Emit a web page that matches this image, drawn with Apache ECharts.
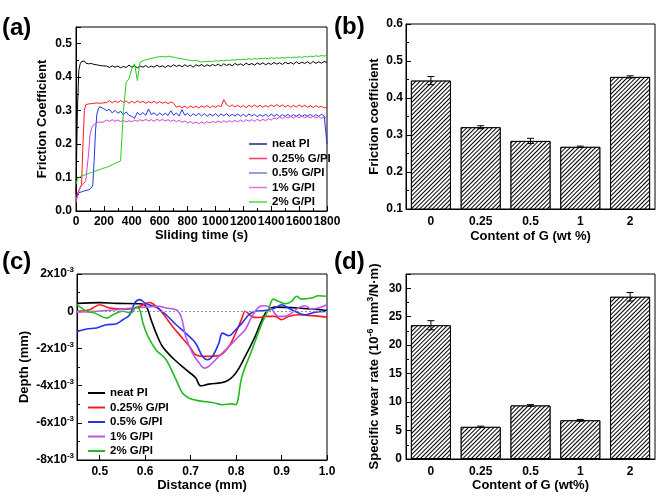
<!DOCTYPE html>
<html><head><meta charset="utf-8">
<script src="https://cdn.jsdelivr.net/npm/echarts@6/dist/echarts.min.js"></script>
<style>html,body{margin:0;padding:0;background:#fff}#c{width:661px;height:504px}</style>
</head><body><div id="c"></div>
<script>
// ---------- Panel (a): friction coefficient vs sliding time ----------
const timeA = [0,10,20,30,40,50,60,70,80,90,100,110,120,130,140,150,160,170,180,190,200,
220,240,260,280,300,320,340,360,380,400,420,440,460,480,500,520,540,560,580,600,620,640,660,680,700,720,740,760,780,800,820,840,860,880,900,920,940,960,980,1000,1020,1040,1060,1080,1100,1120,1140,1160,1180,1200,1220,1240,1260,1280,1300,1320,1340,1360,1380,1400,1420,1440,1460,1480,1500,1520,1540,1560,1580,1600,1620,1640,1660,1680,1700,1720,1740,1760,1780,1800];
const fricNeat = [0.05,0.30,0.42,0.44,0.447,0.445,0.448,0.442,0.444,0.440,0.438,0.441,0.436,0.438,0.434,0.437,0.432,0.435,0.431,0.434,0.430,
0.433,0.429,0.434,0.430,0.433,0.428,0.432,0.429,0.436,0.430,0.434,0.428,0.433,0.430,0.435,0.429,0.433,0.430,0.436,0.431,0.434,0.429,0.435,0.431,0.437,0.432,0.436,0.431,0.437,0.432,0.436,0.430,0.437,0.433,0.438,0.432,0.437,0.433,0.438,0.434,0.439,0.433,0.440,0.435,0.439,0.434,0.441,0.436,0.440,0.435,0.442,0.437,0.441,0.436,0.442,0.438,0.443,0.437,0.442,0.438,0.444,0.439,0.443,0.438,0.445,0.440,0.444,0.439,0.446,0.440,0.445,0.441,0.446,0.440,0.447,0.441,0.446,0.442,0.447,0.444];
const fric025 = [0.03,0.05,0.06,0.07,0.08,0.20,0.30,0.318,0.322,0.320,0.325,0.321,0.326,0.322,0.327,0.323,0.328,0.322,0.327,0.323,0.328,
0.324,0.330,0.323,0.329,0.324,0.330,0.325,0.329,0.322,0.328,0.323,0.329,0.324,0.328,0.322,0.327,0.323,0.328,0.322,0.327,0.322,0.326,0.321,0.326,0.322,0.310,0.314,0.309,0.313,0.308,0.314,0.309,0.313,0.308,0.314,0.310,0.315,0.309,0.314,0.310,0.315,0.312,0.333,0.318,0.312,0.317,0.311,0.316,0.310,0.315,0.309,0.316,0.311,0.317,0.311,0.316,0.310,0.315,0.311,0.317,0.312,0.318,0.312,0.317,0.311,0.316,0.310,0.316,0.311,0.317,0.311,0.316,0.310,0.315,0.309,0.315,0.310,0.313,0.308,0.310];
const fric05 = [0.050,0.053,0.055,0.056,0.057,0.058,0.060,0.061,0.062,0.063,0.065,0.066,0.075,0.15,0.24,0.29,0.305,0.312,0.316,0.308,0.312,
0.300,0.304,0.293,0.301,0.292,0.298,0.288,0.296,0.286,0.283,0.277,0.295,0.287,0.294,0.286,0.305,0.288,0.294,0.285,0.293,0.286,0.292,0.285,0.300,0.286,0.293,0.284,0.303,0.286,0.292,0.283,0.291,0.285,0.292,0.284,0.291,0.283,0.290,0.284,0.291,0.283,0.290,0.285,0.291,0.283,0.289,0.284,0.290,0.283,0.289,0.282,0.290,0.284,0.289,0.282,0.288,0.283,0.289,0.282,0.290,0.283,0.289,0.282,0.288,0.283,0.289,0.282,0.288,0.283,0.289,0.282,0.288,0.283,0.289,0.282,0.288,0.283,0.289,0.284,0.200];
const fric1 = [0.025,0.045,0.06,0.07,0.075,0.08,0.085,0.09,0.095,0.17,0.225,0.245,0.255,0.258,0.262,0.264,0.266,0.268,0.265,0.270,0.267,
0.272,0.268,0.273,0.268,0.272,0.267,0.271,0.266,0.270,0.267,0.272,0.268,0.273,0.269,0.274,0.269,0.273,0.268,0.274,0.270,0.274,0.269,0.273,0.268,0.272,0.267,0.271,0.265,0.269,0.263,0.267,0.262,0.266,0.261,0.266,0.262,0.267,0.263,0.268,0.264,0.269,0.264,0.270,0.265,0.270,0.266,0.271,0.266,0.272,0.267,0.273,0.268,0.273,0.268,0.274,0.269,0.274,0.270,0.276,0.272,0.278,0.275,0.281,0.277,0.282,0.278,0.283,0.278,0.283,0.279,0.284,0.279,0.283,0.278,0.283,0.278,0.282,0.277,0.281,0.276];
const fric2 = [0.08,0.095,0.10,0.103,0.105,0.106,0.108,0.109,0.110,0.112,0.113,0.115,0.116,0.118,0.119,0.121,0.122,0.124,0.125,0.127,0.128,
0.131,0.134,0.138,0.142,0.146,0.150,0.30,0.385,0.395,0.425,0.440,0.390,0.445,0.449,0.452,0.454,0.456,0.458,0.460,0.461,0.462,0.460,0.463,0.461,0.460,0.458,0.456,0.455,0.453,0.452,0.450,0.449,0.451,0.448,0.445,0.447,0.446,0.448,0.447,0.449,0.448,0.450,0.449,0.451,0.450,0.452,0.451,0.453,0.452,0.454,0.453,0.455,0.453,0.456,0.454,0.456,0.455,0.457,0.455,0.458,0.456,0.458,0.457,0.459,0.457,0.460,0.458,0.460,0.459,0.461,0.459,0.462,0.460,0.463,0.461,0.464,0.462,0.465,0.463,0.466];

// ---------- Panel (b) and (d): bars ----------
const contentCats = ['0','0.25','0.5','1','2'];
const fricBar = [0.447,0.321,0.284,0.268,0.457];
const fricErr = [0.011,0.004,0.007,0.002,0.003];
const wearBar = [23.5,5.65,9.4,6.8,28.5];
const wearErr = [0.8,0.12,0.15,0.15,0.75];

// ---------- Panel (c): depth profiles (depth in 10^-3 mm) ----------
const neatX = [0.45,0.50,0.537,0.588,0.602,0.613,0.624,0.638,0.66,0.689,0.711,0.722,0.74,0.777,0.799,0.82,0.842,0.857,0.868,0.886,0.937,1.0];
const neatY = [0.42,0.46,0.42,0.40,0.26,-0.46,-1.18,-1.9,-2.5,-3.13,-3.58,-4.01,-3.92,-3.78,-3.33,-2.43,-1.35,-0.46,0.0,0.22,0.17,0.04];
const g025X = [0.45,0.478,0.5,0.522,0.558,0.588,0.609,0.62,0.638,0.66,0.682,0.70,0.711,0.733,0.762,0.784,0.799,0.813,0.82,0.835,0.85,0.864,0.886,0.90,0.915,0.937,0.966,1.0];
const g025Y = [0.0,0.08,0.35,0.17,0.11,0.26,0.47,0.35,-0.1,-0.82,-1.45,-1.98,-2.34,-2.43,-2.39,-1.9,-1.18,-0.37,0.0,-0.28,-0.34,-0.28,-0.28,-0.46,-0.28,-0.19,-0.24,-0.32];
const g05X = [0.45,0.471,0.493,0.515,0.537,0.551,0.566,0.577,0.588,0.602,0.624,0.646,0.668,0.689,0.711,0.726,0.737,0.748,0.762,0.77,0.784,0.799,0.813,0.828,0.842,0.864,0.886,0.90,0.915,0.929,0.951,0.973,1.0];
const g05Y = [-1.09,-0.96,-0.9,-0.73,-0.67,-0.46,-0.19,0.44,0.62,0.4,0.22,-0.19,-0.73,-1.18,-1.72,-2.43,-2.61,-2.43,-1.72,-1.18,-1.32,-1.0,-0.64,-0.19,0.0,0.04,0.17,0.35,0.17,0.0,-0.19,-0.06,0.0];
const g1X = [0.45,0.493,0.537,0.573,0.602,0.631,0.646,0.668,0.679,0.689,0.704,0.719,0.73,0.74,0.762,0.784,0.806,0.82,0.835,0.85,0.864,0.879,0.893,0.908,0.922,0.937,0.951,0.966,0.981,1.0];
const g1Y = [-0.05,0.0,0.08,0.17,0.22,0.26,0.17,0.08,-0.28,-1.35,-2.25,-2.79,-3.06,-2.97,-2.43,-1.9,-1.35,-1.0,-0.28,0.22,0.29,0.08,-0.28,-0.28,-0.1,0.17,0.29,0.11,0.17,0.35];
const g2X = [0.45,0.471,0.489,0.515,0.529,0.551,0.569,0.58,0.588,0.595,0.606,0.624,0.646,0.668,0.682,0.697,0.719,0.748,0.77,0.791,0.799,0.813,0.835,0.857,0.871,0.882,0.893,0.908,0.922,0.933,0.944,0.966,0.981,1.0];
const g2Y = [0.35,0.0,-0.1,-0.37,-0.19,0.0,-0.1,0.22,0.08,-0.64,-1.35,-2.08,-2.61,-3.69,-4.4,-4.68,-4.82,-4.91,-5.03,-4.98,-5.03,-3.5,-2.08,-0.64,0.08,0.65,0.53,0.4,0.53,0.8,0.65,0.71,0.83,0.8];

const seriesNames = ['neat PI','0.25% G/PI','0.5% G/PI','1% G/PI','2% G/PI'];
const xTicksC = [0.5,0.6,0.7,0.8,0.9,1.0];

const FONT = 'Liberation Sans';
const colA = ['#000000','#ff1a1a','#2233dd','#cc44dd','#22cc22'];
const legA = ['#1a2590','#ff3377','#7080d0','#e070e0','#44dd44'];
const colC = ['#000000','#ff1a1a','#2233ee','#bb55ee','#22bb22'];

const zip = (xs, ys) => xs.map((x, i) => [x, ys[i]]);
const lab = {fontFamily: FONT, fontWeight: 'bold', fontSize: 12, color: '#000'};
const nameSt = {fontFamily: FONT, fontWeight: 'bold', fontSize: 13, color: '#000'};
const axLine = {show: true, onZero: false, lineStyle: {color: '#000', width: 1}};
const tick = {show: true, inside: true, length: 5, lineStyle: {color: '#000'}};
const minor = {show: true, splitNumber: 2, length: 3, lineStyle: {color: '#000'}};

const decal = {symbol: 'rect', symbolSize: 1, color: '#000', backgroundColor: '#fff',
  dashArrayX: [1, 0], dashArrayY: [1, 2], rotation: -Math.PI / 4};

function errRender(params, api) {
  const i = api.value(0), v = api.value(1), e = api.value(2);
  const hi = api.coord([i, v + e]), lo = api.coord([i, v - e]);
  const w = 3.5, st = {stroke: '#000', lineWidth: 1};
  return {type: 'group', children: [
    {type: 'line', shape: {x1: hi[0], y1: hi[1], x2: lo[0], y2: lo[1]}, style: st},
    {type: 'line', shape: {x1: hi[0] - w, y1: hi[1], x2: hi[0] + w, y2: hi[1]}, style: st},
    {type: 'line', shape: {x1: lo[0] - w, y1: lo[1], x2: lo[0] + w, y2: lo[1]}, style: st}
  ]};
}

const series = [];
const fricA = [fricNeat, fric025, fric05, fric1, fric2];
fricA.forEach((arr, k) => series.push({
  type: 'line', name: 'a:' + seriesNames[k], xAxisIndex: 0, yAxisIndex: 0,
  data: zip(timeA, arr), symbol: 'none', lineStyle: {width: 1, color: colA[k]}, itemStyle: {color: colA[k]}
}));
series.push({type: 'bar', xAxisIndex: 1, yAxisIndex: 1, data: fricBar, barWidth: 40,
  itemStyle: {color: '#fff', borderColor: '#000', borderWidth: 1, decal: decal}});
series.push({type: 'custom', xAxisIndex: 1, yAxisIndex: 1, renderItem: errRender,
  data: fricBar.map((v, i) => [i, v, fricErr[i]]), encode: {x: 0, y: 1}, z: 5});
const cX = [neatX, g025X, g05X, g1X, g2X], cY = [neatY, g025Y, g05Y, g1Y, g2Y];
cX.forEach((xs, k) => series.push({
  type: 'line', name: 'c:' + seriesNames[k], xAxisIndex: 2, yAxisIndex: 2,
  data: zip(xs, cY[k]), symbol: 'none', smooth: 0.35, lineStyle: {width: 1.6, color: colC[k]}, itemStyle: {color: colC[k]},
  markLine: k === 0 ? {silent: true, symbol: 'none', label: {show: false},
    lineStyle: {type: [2, 2], color: '#8595a5', width: 1}, data: [{yAxis: 0}]} : undefined
}));
series.push({type: 'bar', xAxisIndex: 3, yAxisIndex: 3, data: wearBar, barWidth: 40,
  itemStyle: {color: '#fff', borderColor: '#000', borderWidth: 1, decal: decal}});
series.push({type: 'custom', xAxisIndex: 3, yAxisIndex: 3, renderItem: errRender,
  data: wearBar.map((v, i) => [i, v, wearErr[i]]), encode: {x: 0, y: 1}, z: 5});

const gridBase = {show: true, borderColor: '#000', borderWidth: 1, backgroundColor: 'transparent'};
const legText = {fontFamily: FONT, fontWeight: 'bold', fontSize: 11.5, color: '#000', lineHeight: 14};
const option = {
  animation: false,
  backgroundColor: '#fff',
  grid: [
    Object.assign({left: 76, top: 27, width: 251, height: 184}, gridBase),
    Object.assign({left: 406, top: 24, width: 249, height: 185}, gridBase),
    Object.assign({left: 77, top: 274, width: 250, height: 186}, gridBase),
    Object.assign({left: 406, top: 274, width: 249, height: 185}, gridBase)
  ],
  xAxis: [
    {type: 'value', gridIndex: 0, min: 0, max: 1800, interval: 200, axisLine: axLine, axisTick: tick,
     minorTick: minor, splitLine: {show: false},
     axisLabel: Object.assign({margin: 5, showMinLabel: true, showMaxLabel: true, formatter: v => String(v)}, lab),
     name: 'Sliding time (s)', nameLocation: 'middle', nameGap: 16, nameTextStyle: nameSt},
    {type: 'category', gridIndex: 1, data: contentCats, axisLine: axLine,
     axisTick: Object.assign({alignWithLabel: true}, tick), axisLabel: Object.assign({margin: 7}, lab),
     name: 'Content of G (wt %)', nameLocation: 'middle', nameGap: 21, nameTextStyle: nameSt},
    {type: 'value', gridIndex: 2, min: 0.45, max: 1.0, axisLine: axLine,
     axisTick: Object.assign({customValues: xTicksC}, tick), splitLine: {show: false},
     axisLabel: Object.assign({margin: 6, customValues: xTicksC, formatter: v => v.toFixed(1)}, lab),
     name: 'Distance (mm)', nameLocation: 'middle', nameGap: 17, nameTextStyle: nameSt},
    {type: 'category', gridIndex: 3, data: contentCats, axisLine: axLine,
     axisTick: Object.assign({alignWithLabel: true}, tick), axisLabel: Object.assign({margin: 7}, lab),
     name: 'Content of G (wt%)', nameLocation: 'middle', nameGap: 12, nameTextStyle: nameSt}
  ],
  yAxis: [
    {type: 'value', gridIndex: 0, min: 0, max: 0.55, interval: 0.1, axisLine: axLine, axisTick: tick,
     minorTick: minor, splitLine: {show: false},
     axisLabel: Object.assign({margin: 4, formatter: v => (Math.abs(v * 10 - Math.round(v * 10)) > 1e-6 ? '' : v.toFixed(1))}, lab),
     name: 'Friction Coefficient', nameLocation: 'middle', nameGap: 27, nameTextStyle: nameSt},
    {type: 'value', gridIndex: 1, min: 0.1, max: 0.6, interval: 0.1, axisLine: axLine, axisTick: tick,
     minorTick: minor, splitLine: {show: false},
     axisLabel: Object.assign({margin: 3, formatter: v => v.toFixed(1)}, lab),
     name: 'Friction coefficient', nameLocation: 'middle', nameGap: 25, nameTextStyle: nameSt},
    {type: 'value', gridIndex: 2, min: -8, max: 2, interval: 2, axisLine: axLine, axisTick: tick,
     minorTick: minor, splitLine: {show: false},
     axisLabel: Object.assign({margin: 3,
       formatter: v => (Math.abs(v) < 1e-9 ? '0' : Math.round(v) + 'x10{sup|-3}'),
       rich: {sup: {fontFamily: FONT, fontWeight: 'bold', fontSize: 8, verticalAlign: 'top', lineHeight: 16, padding: [0, 0, 6, 0]}}}, lab),
     name: 'Depth (mm)', nameLocation: 'middle', nameGap: 46, nameTextStyle: nameSt},
    {type: 'value', gridIndex: 3, min: 0, max: 32.5, interval: 5, axisLine: axLine, axisTick: tick,
     minorTick: minor, splitLine: {show: false},
     axisLabel: Object.assign({margin: 4, formatter: v => (v % 5 === 0 ? String(v) : '')}, lab),
     name: 'Specific wear rate (10{sup|-6} mm{sup|3}/N·m)', nameLocation: 'middle', nameGap: 24,
     nameTextStyle: Object.assign({rich: {sup: {fontFamily: FONT, fontWeight: 'bold', fontSize: 9, padding: [0, 0, 7, 0]}}}, nameSt)}
  ],
  legend: [
    {orient: 'vertical', left: 244, top: 132, icon: 'rect', itemWidth: 18, itemHeight: 1.5, itemGap: 0.5,
     formatter: n => n.slice(2), textStyle: legText,
     data: seriesNames.map((n, k) => ({name: 'a:' + n, itemStyle: {color: legA[k]}}))},
    {orient: 'vertical', left: 83, top: 381, icon: 'rect', itemWidth: 17, itemHeight: 2, itemGap: 0.5,
     formatter: n => n.slice(2), textStyle: legText,
     data: seriesNames.map((n, k) => ({name: 'c:' + n, itemStyle: {color: colC[k]}}))}
  ],
  graphic: [
    {type: 'text', left: 2, top: 16, style: {text: '(a)', font: 'bold 24px "Liberation Sans"', fill: '#000'}},
    {type: 'text', left: 334, top: 15, style: {text: '(b)', font: 'bold 24px "Liberation Sans"', fill: '#000'}},
    {type: 'text', left: 2, top: 250, style: {text: '(c)', font: 'bold 24px "Liberation Sans"', fill: '#000'}},
    {type: 'text', left: 334, top: 250, style: {text: '(d)', font: 'bold 24px "Liberation Sans"', fill: '#000'}}
  ],
  series: series
};
const chart = echarts.init(document.getElementById('c'), null, {renderer: 'canvas'});
chart.setOption(option);
</script></body></html>
